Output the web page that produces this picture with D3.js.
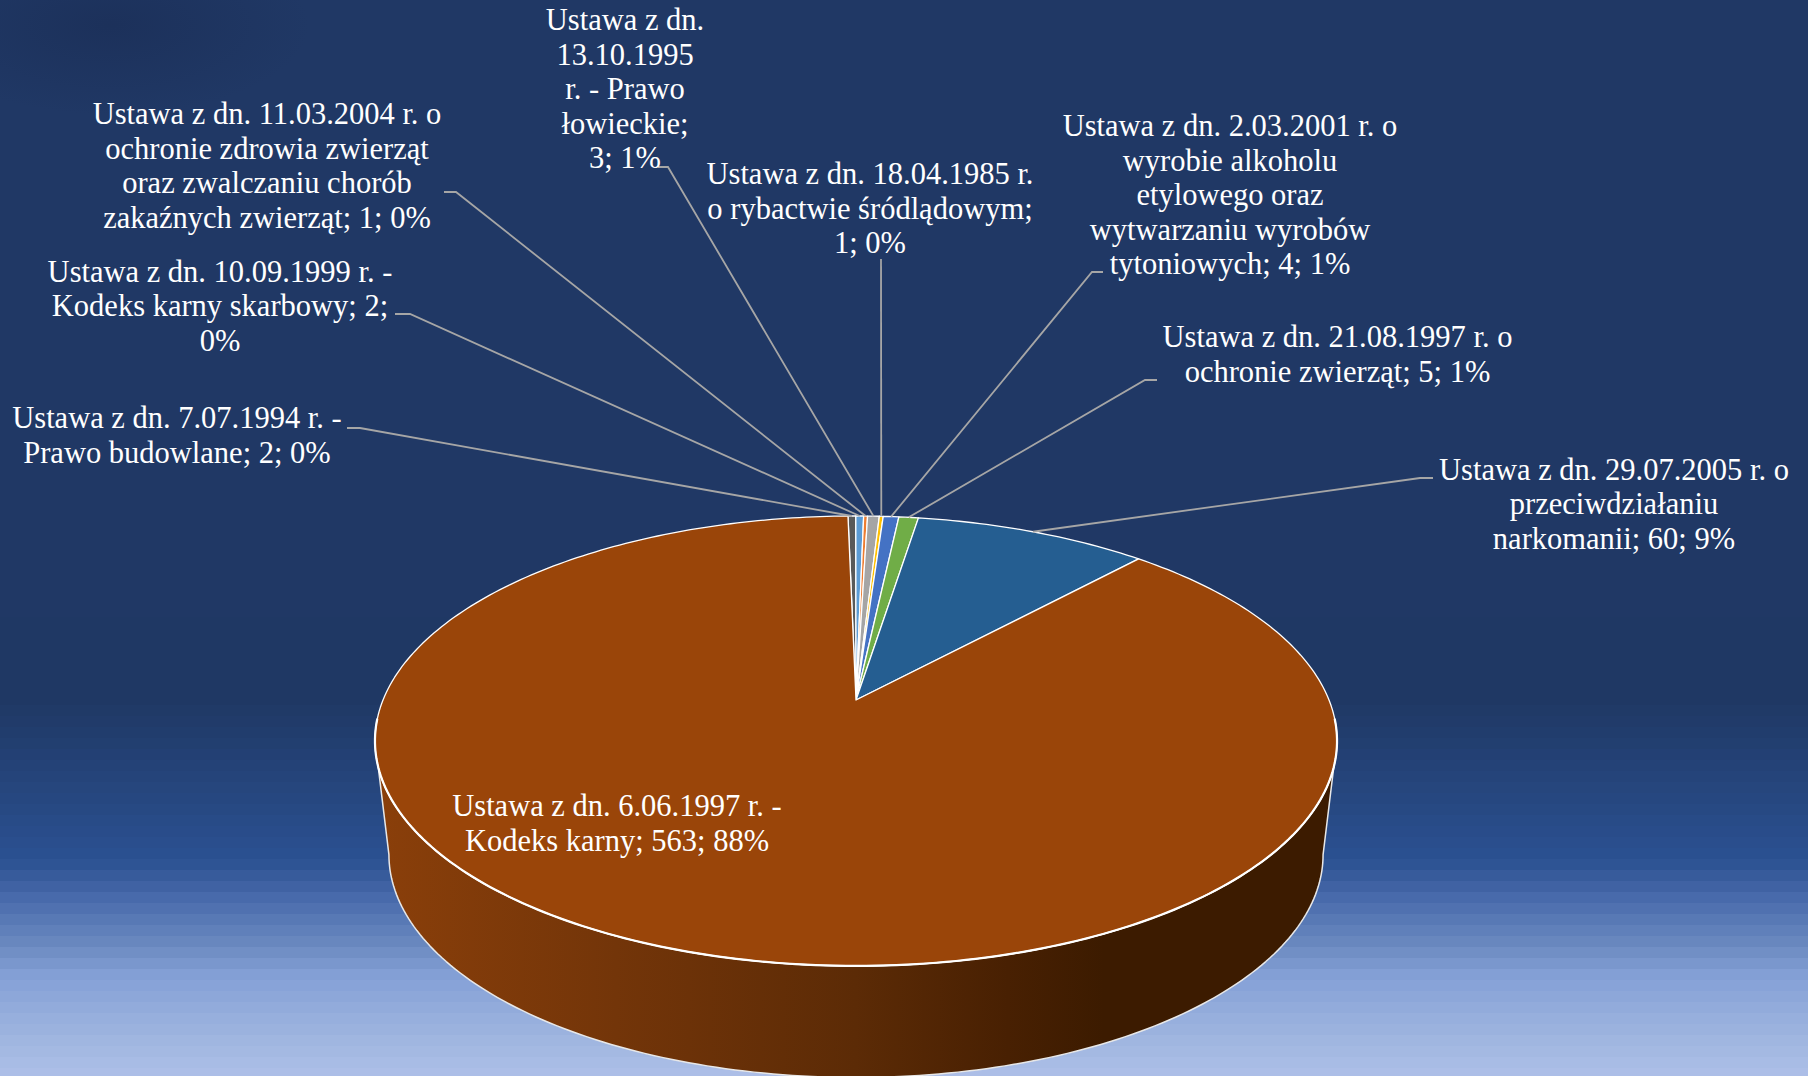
<!DOCTYPE html>
<html><head><meta charset="utf-8">
<script src="https://cdn.jsdelivr.net/npm/d3@7"></script>
<style>html,body{margin:0;padding:0;background:#203865;overflow:hidden}svg{display:block}</style>
</head><body>
<svg id="c" width="1808" height="1076"></svg>
<script>
const values = [2, 2, 1, 3, 1, 4, 5, 60, 563];
const labelLines = [
  ["Ustawa z dn. 7.07.1994 r. -", "Prawo budowlane; 2; 0%"],
  ["Ustawa z dn. 10.09.1999 r. -", "Kodeks karny skarbowy; 2;", "0%"],
  ["Ustawa z dn. 11.03.2004 r. o", "ochronie zdrowia zwierząt", "oraz zwalczaniu chorób", "zakaźnych zwierząt; 1; 0%"],
  ["Ustawa z dn.", "13.10.1995", "r. - Prawo", "łowieckie;", "3; 1%"],
  ["Ustawa z dn. 18.04.1985 r.", "o rybactwie śródlądowym;", "1; 0%"],
  ["Ustawa z dn. 2.03.2001 r. o", "wyrobie alkoholu", "etylowego oraz", "wytwarzaniu wyrobów", "tytoniowych; 4; 1%"],
  ["Ustawa z dn. 21.08.1997 r. o", "ochronie zwierząt; 5; 1%"],
  ["Ustawa z dn. 29.07.2005 r. o", "przeciwdziałaniu", "narkomanii; 60; 9%"],
  ["Ustawa z dn. 6.06.1997 r. -", "Kodeks karny; 563; 88%"]
];
const sliceColors = ["#595959", "#5b9bd5", "#ed7d31", "#a5a5a5", "#ffc000", "#4472c4", "#70ad47", "#255e91", "#9a4509"];

// layout, separate from the data: label centre / first-line centre and the elbow of each leader
const labelPos = [[177,419],[220,272.5],[267,115],[625,21],[870,175],[1230,127],[1337.5,338],[1614,470.5],[617,807]];
const elbows = [
  [[347,428],[360,428]], [[395,314],[410,314]], [[444,192],[456,192]], [[658,167],[668,167]],
  [[881,259]], [[1103,272],[1092,272]], [[1157,380],[1145,380]], [[1433,478],[1420,478]], null
];
const LINE = 34.6, FONT = 30.5;

const svg = d3.select("#c");
const W = 1808, H = 1076;
const defs = svg.append("defs");

// background
const bgScale = d3.scaleLinear()
  .domain([540, 700, 860, 880, 900, 945, 975, 1040, 1076])
  .range(["#203865","#1f3864","#2b5192","#3b5e9e","#4a6cad","#6b8ac0","#84a0d6","#a0b6e0","#adbfe8"]);
svg.append("rect").attr("width", W).attr("height", H).attr("fill", "#203865");
svg.append("g").selectAll("rect").data(d3.range(540, H, 11)).join("rect")
  .attr("x", 0).attr("y", d => d).attr("width", W).attr("height", 11.5)
  .attr("fill", d => bgScale(d + 5)).attr("shape-rendering", "crispEdges");
const spot = defs.append("radialGradient").attr("id", "spot");
spot.append("stop").attr("offset", 0).attr("stop-color", "#1b2f58").attr("stop-opacity", .8);
spot.append("stop").attr("offset", 1).attr("stop-color", "#1b2f58").attr("stop-opacity", 0);
svg.append("ellipse").attr("cx", 110).attr("cy", 25).attr("rx", 200).attr("ry", 90).attr("fill", "url(#spot)");

// pie projected in perspective
const cx = 856, cy = 700, A = 473, P = 217.5, K = 0.182;
const start = -1.15 * Math.PI / 180;
const project = (t, r = 1, sx = 1, sy = 1, dy = 0) => {
  const X = r * Math.sin(t), Y = -r * Math.cos(t), w = 1 - K * Y;
  return [cx + sx * A * X / w, cy + dy + sy * P * Y / w];
};
const pie = d3.pie().value(d => d).sort(null).startAngle(start).endAngle(start + 2 * Math.PI);
const arcs = pie(values);
const line = d3.line();
const deg = Math.PI / 180;

// side wall
const sideGrad = defs.append("linearGradient").attr("id", "side")
  .attr("gradientUnits", "userSpaceOnUse").attr("x1", 377).attr("x2", 1333).attr("y1", 0).attr("y2", 0);
[[0,"#8a3f0a"],[.25,"#733509"],[.5,"#5c2b06"],[.66,"#482002"],[.76,"#3c1b00"],[1,"#3c1b00"]]
  .forEach(s => sideGrad.append("stop").attr("offset", s[0]).attr("stop-color", s[1]));
const topRim = d3.range(107, 253.01, 1).map(a => project(a * deg));
const botRim = d3.range(259.5, 100.49, -1).map(a => project(a * deg, 1, 0.971, 0.991, 114));
svg.append("path").attr("d", line(topRim.concat(botRim)) + "Z")
  .attr("fill", "url(#side)").attr("stroke", "#e8e8e8").attr("stroke-width", 1.5).attr("stroke-linejoin", "round");

// top slices
svg.append("g").selectAll("path").data(arcs).join("path")
  .attr("d", d => {
    const n = Math.max(2, Math.ceil((d.endAngle - d.startAngle) / deg));
    const rim = d3.range(n + 1).map(i => project(d.startAngle + (d.endAngle - d.startAngle) * i / n));
    return line([[cx, cy]].concat(rim)) + "Z";
  })
  .attr("fill", (d, i) => sliceColors[i])
  .attr("stroke", "#ffffff").attr("stroke-width", 1.3).attr("stroke-linejoin", "round");
// brighter front rim of the top face
svg.append("path").attr("d", line(d3.range(95, 265.01, 1).map(a => project(a * deg))))
  .attr("fill", "none").attr("stroke", "#ffffff").attr("stroke-width", 2.2).attr("stroke-linecap", "round");

// leaders
svg.append("g").selectAll("polyline").data(arcs.filter((d, i) => elbows[i])).join("polyline")
  .attr("points", d => {
    const mid = project((d.startAngle + d.endAngle) / 2);
    return elbows[d.index].concat([mid]).map(p => p.join(",")).join(" ");
  })
  .attr("fill", "none").attr("stroke", "#a6a6a6").attr("stroke-width", 1.8);

// labels
const lab = svg.append("g").attr("font-family", "'Liberation Serif', serif").attr("font-size", FONT)
  .attr("fill", "#ffffff").attr("text-anchor", "middle");
labelLines.forEach((lines, i) => {
  lab.append("text").selectAll("tspan").data(lines).join("tspan")
    .attr("x", labelPos[i][0]).attr("y", (d, j) => labelPos[i][1] + 9 + j * LINE).text(d => d);
});
</script>
</body></html>
